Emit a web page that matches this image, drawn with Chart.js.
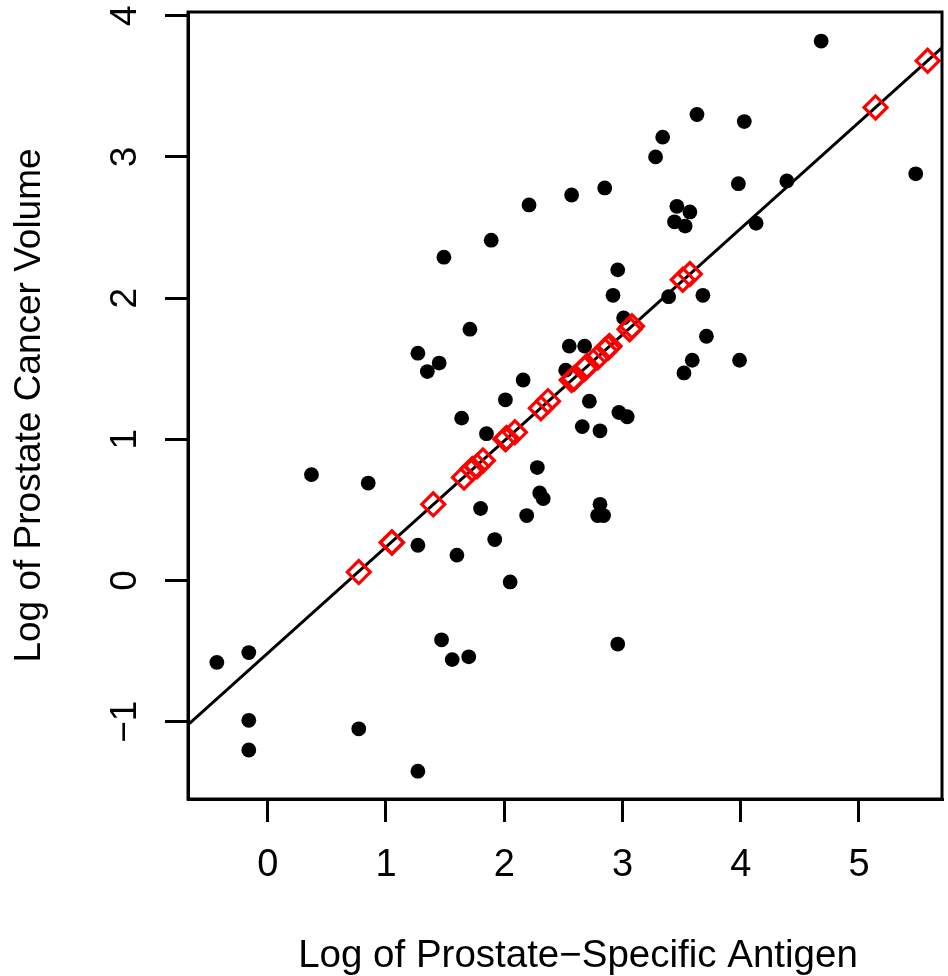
<!DOCTYPE html>
<html>
<head>
<meta charset="utf-8">
<script src="https://cdn.jsdelivr.net/npm/chart.js@4.4.0/dist/chart.umd.min.js"></script>
<style>
  html, body { margin: 0; padding: 0; background: #ffffff; }
  #wrap { width: 948px; height: 976px; }
</style>
</head>
<body>
<div id="wrap"><canvas id="c" width="948" height="976"></canvas></div>
<script>
// Training observations: log PSA (x) and log cancer volume (y)
const trainLpsa = [-0.43, -0.16, -0.16, -0.16, 0.37, 0.77, 0.85, 1.27, 1.27, 1.27, 1.35, 1.45, 1.47, 1.49, 1.56, 1.60, 1.64, 1.70, 1.71, 1.80, 1.85, 1.89, 1.92, 2.01, 2.05, 2.16, 2.19, 2.21, 2.28, 2.30, 2.33, 2.52, 2.55, 2.57, 2.66, 2.68, 2.72, 2.79, 2.81, 2.81, 2.84, 2.85, 2.92, 2.96, 2.96, 2.97, 3.01, 3.04, 3.28, 3.34, 3.39, 3.44, 3.46, 3.52, 3.53, 3.57, 3.59, 3.63, 3.68, 3.71, 3.98, 3.99, 4.03, 4.13, 4.39, 4.68, 5.48];
const trainLcavol = [-0.58, -0.99, -0.51, -1.20, 0.75, -1.05, 0.69, 0.25, -1.35, 1.61, 1.48, 1.54, -0.42, 2.29, -0.56, 0.18, 1.15, -0.54, 1.78, 0.51, 1.04, 2.41, 0.29, 1.28, -0.01, 1.42, 0.46, 2.66, 0.80, 0.62, 0.58, 1.49, 1.66, 2.73, 1.09, 1.66, 1.27, 0.46, 0.54, 1.06, 0.46, 2.78, 2.02, 2.20, -0.45, 1.19, 1.86, 1.16, 3.00, 3.14, 2.01, 2.54, 2.65, 1.47, 2.51, 2.61, 1.56, 3.30, 2.02, 1.73, 2.81, 1.56, 3.25, 2.53, 2.83, 3.82, 2.88];

// Test observations: log PSA (x) and predicted log cancer volume (red diamonds)
const testLpsa = [0.77, 1.05, 1.05, 1.40, 1.66, 1.73, 1.77, 1.82, 2.01, 2.02, 2.09, 2.31, 2.37, 2.57, 2.59, 2.59, 2.68, 2.69, 2.70, 2.79, 2.85, 2.88, 2.88, 2.89, 3.06, 3.08, 3.51, 3.57, 5.14, 5.58];
const testFitted = [0.06, 0.27, 0.27, 0.54, 0.73, 0.79, 0.81, 0.85, 1.00, 1.01, 1.05, 1.22, 1.27, 1.42, 1.43, 1.43, 1.50, 1.51, 1.52, 1.58, 1.63, 1.65, 1.65, 1.66, 1.78, 1.80, 2.13, 2.17, 3.35, 3.68];

// Fitted regression line endpoints (extends past the plot region, clipped)
const fitLineX = [-1.0, 6.0];
const fitLineY = [-1.267, 3.997];

// Axes
const xTicks = [0, 1, 2, 3, 4, 5];
const xTickLabels = ['0', '1', '2', '3', '4', '5'];
const yTicks = [-1, 0, 1, 2, 3, 4];
const yTickLabels = ['\u22121', '0', '1', '2', '3', '4'];
const xTitle = 'Log of Prostate\u2212Specific Antigen';
const yTitle = 'Log of Prostate Cancer Volume';

const FONT = 'Liberation Sans';
const FS = 37;
const LW = 3;

const rPlot = {
  id: 'rPlot',
  afterDatasetsDraw(chart) {
    const { ctx, chartArea: a, scales: { y } } = chart;
    ctx.save();
    ctx.strokeStyle = '#000000';
    ctx.lineWidth = LW;
    ctx.strokeRect(a.left, a.top, a.right - a.left, a.bottom - a.top);
    ctx.fillStyle = '#000000';
    ctx.font = FS + 'px "' + FONT + '"';
    ctx.textAlign = 'center';
    ctx.textBaseline = 'alphabetic';
    yTicks.forEach((v, i) => {
      const py = y.getPixelForValue(v);
      ctx.save();
      ctx.translate(a.left - 52, py);
      ctx.rotate(-Math.PI / 2);
      ctx.fillText(yTickLabels[i], 0, 0);
      ctx.restore();
    });
    // x axis title (R mtext-style, below the axis)
    ctx.font = '38.5px "' + FONT + '"';
    ctx.fillText(xTitle, a.left + (a.right - a.left) / 2 + 13, 967);
    ctx.restore();
  }
};

const tickGrid = {
  display: true,
  drawOnChartArea: false,
  drawTicks: true,
  tickLength: 23,
  color: '#000000',
  lineWidth: LW
};

new Chart(document.getElementById('c'), {
  type: 'scatter',
  data: {
    datasets: [
      {
        label: 'Test predictions',
        data: testLpsa.map((x, i) => ({ x: x, y: testFitted[i] })),
        pointStyle: 'rectRot',
        pointRadius: 11.5,
        borderColor: '#FF0000',
        backgroundColor: 'rgba(0,0,0,0)',
        borderWidth: 3.2,
        order: 0
      },
      {
        label: 'Fit',
        type: 'line',
        data: fitLineX.map((x, i) => ({ x: x, y: fitLineY[i] })),
        showLine: true,
        borderColor: '#000000',
        borderWidth: LW,
        pointRadius: 0,
        fill: false,
        clip: 0,
        order: 1
      },
      {
        label: 'Training',
        data: trainLpsa.map((x, i) => ({ x: x, y: trainLcavol[i] })),
        pointStyle: 'circle',
        pointRadius: 7.4,
        backgroundColor: '#000000',
        borderColor: '#000000',
        borderWidth: 0,
        order: 2
      }
    ]
  },
  options: {
    responsive: false,
    devicePixelRatio: 1,
    animation: false,
    events: [],
    layout: { autoPadding: false, padding: { left: 0, right: 6, top: 12, bottom: 0 } },
    plugins: { legend: { display: false }, tooltip: { enabled: false } },
    scales: {
      x: {
        type: 'linear',
        position: 'bottom',
        min: -0.674,
        max: 5.702,
        afterBuildTicks: (s) => { s.ticks = xTicks.map(v => ({ value: v })); },
        afterFit: (s) => { s.height = 177; s.paddingLeft = 0; s.paddingRight = 0; },
        grid: tickGrid,
        border: { display: true, color: '#000000', width: LW },
        ticks: {
          color: '#000000',
          font: { family: FONT, size: 38 },
          padding: 21,
          maxRotation: 0,
          minRotation: 0,
          autoSkip: false,
          callback: (v) => { const i = xTicks.indexOf(v); return i >= 0 ? xTickLabels[i] : ''; }
        },
        title: { display: false }
      },
      y: {
        type: 'linear',
        position: 'left',
        min: -1.547,
        max: 4.026,
        afterBuildTicks: (s) => { s.ticks = yTicks.map(v => ({ value: v })); },
        afterFit: (s) => { s.width = 188; s.paddingTop = 0; s.paddingBottom = 0; },
        grid: tickGrid,
        border: { display: true, color: '#000000', width: LW },
        ticks: { display: false },
        title: {
          display: true,
          text: yTitle,
          color: '#000000',
          font: { family: FONT, size: FS },
          padding: { top: 8, bottom: 0 }
        }
      }
    }
  },
  plugins: [rPlot]
});
</script>
</body>
</html>
